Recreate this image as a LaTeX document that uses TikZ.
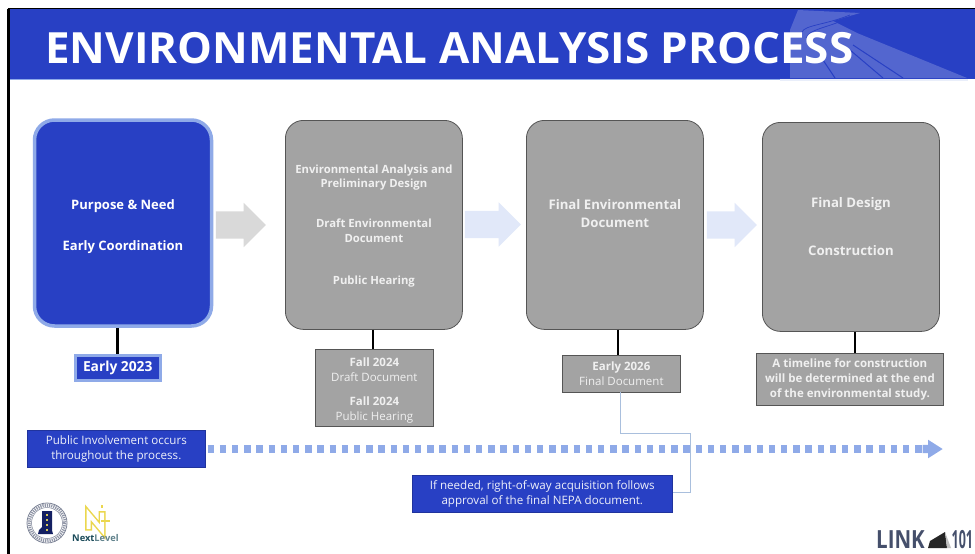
\documentclass[tikz,border=0pt]{standalone}
\usepackage{fontspec}
\setmainfont{Open Sans}
\usetikzlibrary{shapes.arrows}
\definecolor{hdr}{HTML}{2840C4}
\definecolor{lite}{HTML}{8FAAE8}
\definecolor{gbox}{HTML}{A3A3A3}
\definecolor{gedge}{HTML}{555555}
\definecolor{conn}{HTML}{A9BFDD}
\definecolor{txtg}{HTML}{F0F0F0}
\definecolor{gold}{HTML}{EBD74E}
\definecolor{teal2}{HTML}{1B4B5A}
\definecolor{slate}{HTML}{454F6B}
\tikzset{
  x=1pt,y=-1pt,
  bluebox/.style={draw=lite,line width=3.5pt,fill=hdr,rounded corners=20pt,minimum width=177pt,minimum height=206pt,inner sep=0pt,anchor=center,text=white,align=center,font=\fontsize{13}{17}\selectfont\bfseries},
  graybox/.style={draw=gedge,line width=.8pt,fill=gbox,rounded corners=18pt,minimum width=177pt,minimum height=209pt,inner sep=0pt,anchor=north west,text=txtg,align=center,font=\fontsize{11.3}{14.5}\selectfont\bfseries},
  graybig/.style={graybox,font=\fontsize{13.2}{18}\selectfont\bfseries},
  graynote/.style={draw=gedge,line width=.8pt,fill=gbox,inner sep=0pt,anchor=north west,text=txtg,align=center,font=\fontsize{11.5}{15}\selectfont},
  bluenote/.style={draw=hdr!80!black,line width=.6pt,fill=hdr,inner sep=0pt,anchor=north west,text=white!92!hdr,align=center,font=\fontsize{11.6}{15}\selectfont},
  stem/.style={draw=black,line width=2.6pt},
  bigarrow/.style={single arrow,inner xsep=0pt,inner ysep=13.5pt,minimum height=50pt,single arrow head extend=8.5pt,shape border rotate=0},
}
\begin{document}
\begin{tikzpicture}
\useasboundingbox (0,0) rectangle (975,554);
\fill[white] (0,0) rectangle (975,554);
% header
\fill[hdr] (7,9) rectangle (975,79);
\fill[white,opacity=.2] (798,10) -- (860,13) -- (833,21) -- (857,33) -- (967,78) -- (790,78) -- (790,30) -- cycle;
\draw[hdr,line width=1pt] (823,60) -- (835,78) (850,50) -- (883,78) (853,45) -- (903,78);
\draw[hdr,line width=.7pt] (802,32) .. controls (805,25) and (825,25) .. (850,15) (806,38) .. controls (810,28) and (830,28) .. (852,16);
\fill[white!80!lite] (780,78.5) rectangle (968,80.5);
\draw[black,line width=2.4pt] (8.5,554) -- (8.5,8.5);
\draw[black,line width=1.8pt] (7.5,8.5) -- (975,8.5);
\draw[lite,line width=.7pt] (10,79.5) -- (780,79.5);
\node[anchor=west,text=white,inner sep=0pt,font=\fontsize{43}{43}\selectfont\bfseries] (title) at (45,48) {\scalebox{1.022}[1]{ENVIRONMENTAL ANALYSIS PROCESS}};
% main boxes
\node[bluebox] (b1) at (123,223) {\rule{0pt}{17.5pt}Purpose \& Need\\[24pt]Early Coordination};
\node[graybox] (b2) at (285,120) {\rule{0pt}{10.5pt}Environmental Analysis and\\Preliminary Design\\[25.5pt]Draft Environmental\\Document\\[27.5pt]Public Hearing};
\node[graybig] (b3) at (526,120) {Final Environmental\\Document\\[5pt]\mbox{}};
\node[graybig] (b4) at (762,122) {Final Design\\[30pt]Construction};
% block arrows
\node[bigarrow,fill=black!15] (a1) at (234,225) {};
\node[bigarrow,fill=lite!27!white,minimum height=56pt] (a2) at (486,224.5) {};
\node[bigarrow,fill=lite!27!white] (a3) at (725,225) {};
% date notes
\node[draw=lite,line width=3pt,fill=hdr,inner sep=0pt,minimum width=85.5pt,minimum height=25pt,text=white,font=\fontsize{13.8}{15}\selectfont\bfseries,anchor=north west] (n1) at (73.5,353.5) {Early 2023};
\node[graynote,minimum width=118pt,minimum height=77pt] (n2) at (315,349) {\rule{0pt}{13pt}{\bfseries Fall 2024}\\Draft Document\\[9pt]{\bfseries Fall 2024}\\Public Hearing};
\node[graynote,minimum width=118pt,minimum height=37pt] (n3) at (562,355) {{\bfseries Early 2026}\\Final Document};
\node[graynote,minimum width=187pt,minimum height=52pt,font=\fontsize{11.5}{15}\selectfont\bfseries] (n4) at (756,353) {A timeline for construction\\will be determined at the end\\of the environmental study.};
% stems
\draw[stem] (b1.south -| n1.north) -- (n1.north);
\draw[stem] (b2.south -| 373,0) -- (n2.north -| 373,0);
\draw[stem] (b3.south -| 618,0) -- (n3.north -| 618,0);
\draw[stem] (b4.south -| 855,0) -- (n4.north -| 855,0);
% involvement
\node[bluenote,minimum width=178pt,minimum height=37pt] (p1) at (27,430) {Public Involvement occurs\\throughout the process.};
\node[bluenote,minimum width=260pt,minimum height=37.5pt] (p2) at (412,474.5) {If needed, right-of-way acquisition follows\\approval of the final NEPA document.};
\coordinate (dotend) at (925,449);
\node[single arrow,fill=lite,inner xsep=0pt,inner ysep=4pt,minimum height=20pt,single arrow head extend=5pt,single arrow tip angle=65,anchor=tip,shape border rotate=0] (tip) at (943,449) {};
\draw[lite,line width=8pt,dash pattern=on 6.4pt off 5.8pt] (p1.east |- dotend) ++(2,0) -- (dotend);
% leader
\draw[conn,line width=1pt] (620.5,392) -- (620.5,433) -| (690,492) -- (p2.east |- 0,492);
% seal logo
\draw[slate!70!white,line width=.8pt] (47,523) circle (20);
\draw[slate!60!white,line width=3pt,dash pattern=on 1.2pt off 1pt] (47,523) circle (17.8);
\draw[slate!70!white,line width=.5pt] (47,523) circle (15.5);
\fill[hdr!50!black] (42,511) -- (52,511) -- (52,530) -- (53,534) -- (38,534) -- (39,530) -- (42,527) -- cycle;
\foreach \yy in {514,519,524,529}{\fill[gold!80!gray] (46,\yy) rectangle (47.5,\yy+2);}
% NextLevel logo
\draw[gold,line width=7pt,line join=miter] (88.5,530.5) -- (88.5,514) -- (102,530) -- (102,511);
\draw[white,line width=4pt,line join=miter] (88.5,529) -- (88.5,514) -- (102,530) -- (102,512.5);
\draw[gold,line width=1.4pt] (101,521) -- (110,521) (102,505) -- (102,508);
\node[inner sep=0pt,anchor=west,font=\fontsize{9.3}{10}\selectfont\bfseries,text=teal2] (nl) at (72,538.5) {Next\textcolor{teal2!70!white}{Level}};
% LINK 101 logo
\node[inner sep=0pt,anchor=west,font=\fontsize{25}{26}\selectfont\bfseries,text=slate] (lk) at (876,540) {\scalebox{.82}[1]{LINK}};
\fill[black!85] (928,548) -- (930,541) -- (945,532) -- (947,548) -- cycle;
\fill[black!25] (945,532) -- (951,548) -- (947,548) -- cycle;
\node[inner sep=0pt,anchor=west,font=\fontsize{25}{26}\selectfont\bfseries,text=slate] (ln) at (951.5,540) {\scalebox{.5}[1]{101}};
\end{tikzpicture}
\end{document}
